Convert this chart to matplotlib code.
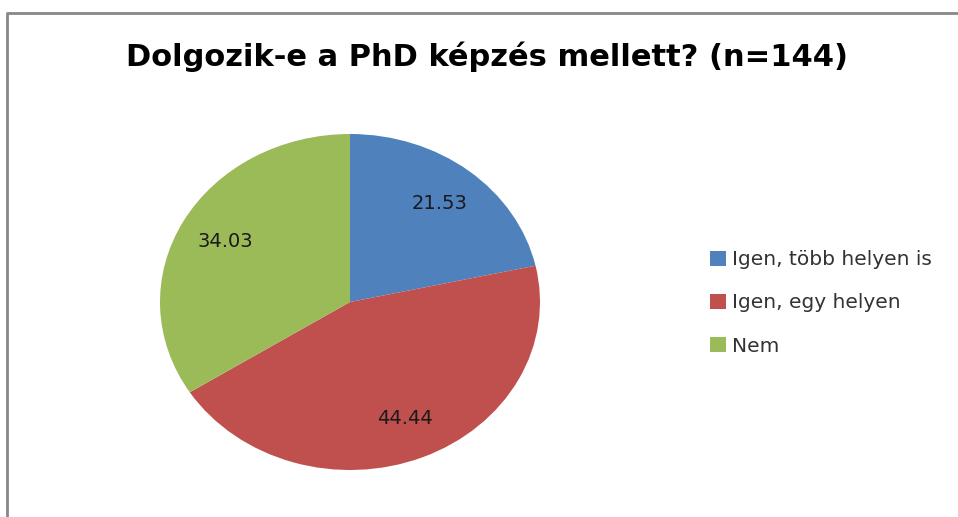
import matplotlib.pyplot as plt
from matplotlib.lines import Line2D
from matplotlib.patches import Patch

labels = ["Igen, több helyen is", "Igen, egy helyen", "Nem"]
values = [21.53, 44.44, 34.03]
colors = ["#4F81BD", "#C0504D", "#9BBB59"]

W, H = 958, 517
fig = plt.figure(figsize=(W / 100, H / 100), dpi=100)
plt.rcParams["font.family"] = ["DejaVu Sans"]

# pie is drawn into an oval box (wider than tall)
cx, cy, rx, ry = 350, 302, 190, 168
ax = fig.add_axes([(cx - rx) / W, (H - cy - ry) / H, 2 * rx / W, 2 * ry / H])
wedges, texts, autotexts = ax.pie(values, colors=colors, startangle=90, counterclock=False,
                                  autopct="%.2f", pctdistance=0.75,
                                  textprops={"fontsize": 14, "color": "#1a1a1a"})
ax.set_aspect("auto")
ax.set_xlim(-1, 1)
ax.set_ylim(-1, 1)
ax.axis("off")

fig.text(487 / W, 1 - 57 / H, "Dolgozik-e a PhD képzés mellett? (n=144)",
         ha="center", va="center", fontsize=22, fontweight="bold")

handles = [Patch(facecolor=c, edgecolor="none") for c in colors]
fig.legend(handles, labels, loc="center left", bbox_to_anchor=(692 / W, 1 - 303 / H),
           frameon=False, fontsize=14.5, handlelength=0.8, handleheight=0.8,
           handletextpad=0.3, labelspacing=1.2, labelcolor="#333333")

# chart border (left and top edges)
fig.add_artist(Line2D([7 / W, 7 / W, 1], [0, 1 - 13 / H, 1 - 13 / H],
                      transform=fig.transFigure, color="#888888", lw=2))

fig.savefig("out.png", dpi=100)
